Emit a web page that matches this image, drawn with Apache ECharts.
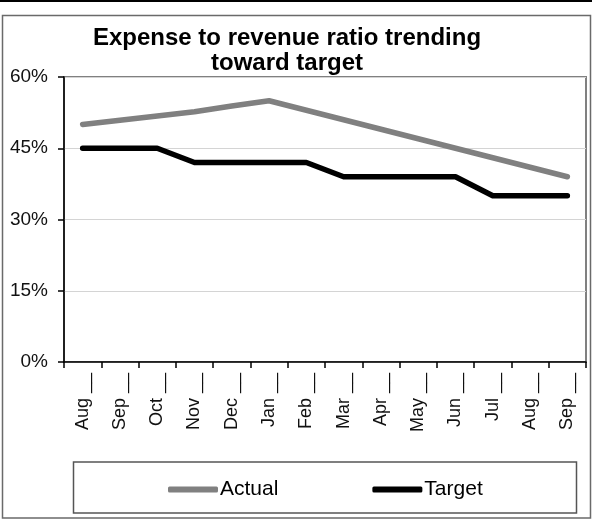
<!DOCTYPE html>
<html>
<head>
<meta charset="utf-8">
<script src="https://cdn.jsdelivr.net/npm/echarts@6/dist/echarts.min.js"></script>
<style>
  html, body { margin: 0; padding: 0; background: #fff; }
  #chart { width: 592px; height: 520px; }
</style>
</head>
<body>
<div id="chart"></div>
<script>
// Month labels (year suffix blanked out)
const months = ['Aug __', 'Sep __', 'Oct __', 'Nov __', 'Dec __', 'Jan __', 'Feb __',
                'Mar __', 'Apr __', 'May __', 'Jun __', 'Jul __', 'Aug __', 'Sep __'];
// Expense-to-revenue ratio, as fractions
const actualRatio = [0.50, 0.509, 0.518, 0.527, 0.539, 0.55, 0.53, 0.51, 0.49, 0.47, 0.45, 0.43, 0.41, 0.39];
const targetRatio = [0.45, 0.45, 0.45, 0.42, 0.42, 0.42, 0.42, 0.39, 0.39, 0.39, 0.39, 0.35, 0.35, 0.35];
const seriesNames = ['Actual', 'Target'];
const titleLines = ['Expense to revenue ratio trending', 'toward target'];

const FONT = 'Arial, "Liberation Sans", sans-serif';
const chart = echarts.init(document.getElementById('chart'), null, { renderer: 'canvas' });

chart.setOption({
  animation: false,
  backgroundColor: '#fff',
  graphic: [
    // top rule and outer frame
    { type: 'rect', shape: { x: 0, y: 0, width: 592, height: 2 }, style: { fill: '#000' }, silent: true },
    { type: 'rect', shape: { x: 2.5, y: 15.5, width: 588, height: 502.5 },
      style: { fill: null, stroke: '#6a6a6a', lineWidth: 1.5 }, silent: true },
    // legend box
    { type: 'rect', shape: { x: 73.5, y: 462, width: 503, height: 51 },
      style: { fill: null, stroke: '#555', lineWidth: 1.5 }, silent: true },
    // title
    { type: 'text', x: 287, y: 26,
      style: { text: titleLines.join('\n'), font: 'bold 24px ' + FONT, fill: '#000',
               align: 'center', verticalAlign: 'top', lineHeight: 25 } }
  ],
  legend: {
    data: seriesNames,
    left: 163,
    top: 474,
    itemWidth: 50,
    itemHeight: 6,
    itemGap: 94,
    icon: 'roundRect',
    textStyle: { fontFamily: FONT, fontSize: 21, color: '#000', padding: [0, 0, 0, -3] }
  },
  grid: {
    left: 64, right: 6, top: 77, bottom: 158,
    show: true, borderColor: '#808080', borderWidth: 2,
    outerBoundsMode: 'none'
  },
  xAxis: {
    type: 'category',
    data: months,
    boundaryGap: true,
    axisLine: { lineStyle: { color: '#000', width: 1.5 } },
    axisTick: { show: true, length: 6, lineStyle: { color: '#000', width: 1.5 } },
    axisLabel: { rotate: 90, margin: 11, interval: 0, fontFamily: FONT, fontSize: 18, color: '#111' }
  },
  yAxis: {
    type: 'value',
    min: 0, max: 0.6, interval: 0.15,
    axisLine: { show: true, lineStyle: { color: '#000', width: 1.5 } },
    axisTick: { show: true, length: 6, lineStyle: { color: '#000', width: 1.5 } },
    splitLine: { show: true, lineStyle: { color: '#d4d4d4', width: 1 } },
    axisLabel: {
      margin: 16, fontFamily: FONT, fontSize: 19, color: '#111',
      formatter: v => Math.round(v * 100) + '%'
    }
  },
  series: [
    {
      name: seriesNames[0], type: 'line', data: actualRatio,
      showSymbol: false, symbol: 'none', color: '#808080',
      lineStyle: { color: '#808080', width: 5.5, cap: 'round', join: 'round' }
    },
    {
      name: seriesNames[1], type: 'line', data: targetRatio,
      showSymbol: false, symbol: 'none', color: '#000',
      lineStyle: { color: '#000', width: 5.5, cap: 'round', join: 'round' }
    }
  ]
});
</script>
</body>
</html>
